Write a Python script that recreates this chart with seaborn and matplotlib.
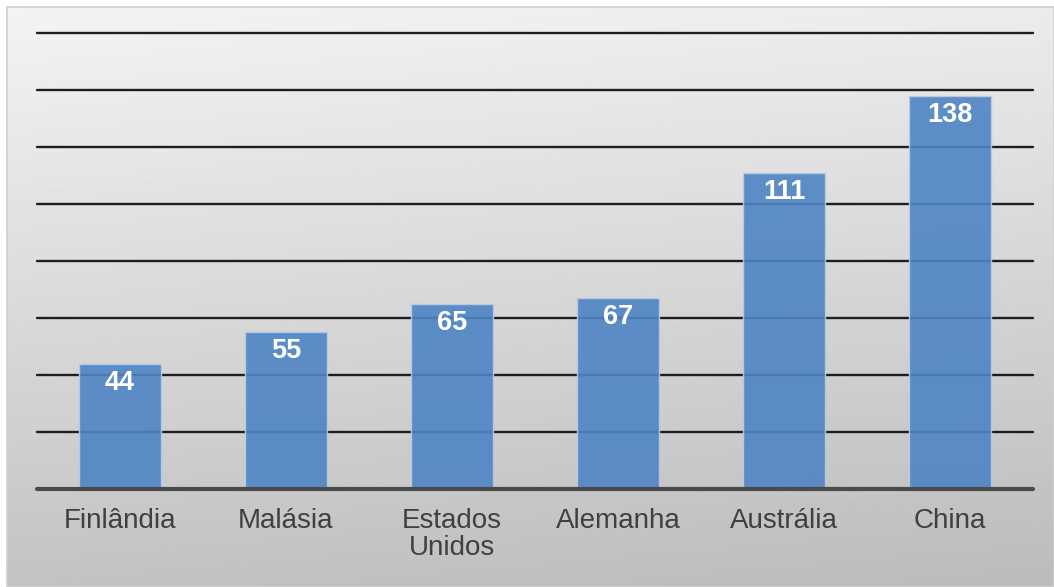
import numpy as np
import matplotlib
matplotlib.use("Agg")
import matplotlib.pyplot as plt
import seaborn as sns
import pandas as pd

categories = ["Finlândia", "Malásia", "Estados\nUnidos", "Alemanha", "Austrália", "China"]
values = [44, 55, 65, 67, 111, 138]

sns.set_theme(style="white")
plt.rcParams['font.family'] = ['Liberation Sans', 'DejaVu Sans']

W, H = 1054, 587
fig = plt.figure(figsize=(W / 100, H / 100), dpi=100)
fig.patch.set_facecolor("white")

# gradient background panel
bg = fig.add_axes([7 / W, 0, 1 - 7 / W, 1 - 7 / H], zorder=-10)
yy = np.linspace(0, 1, 256)[:, None]
xx = np.linspace(0, 1, 256)[None, :]
grad = 0.955 - 0.19 * yy - 0.03 * xx
bg.imshow(grad, cmap="gray", vmin=0, vmax=1, aspect="auto", extent=[0, 1, 1, 0])
bg.set_axis_off()
bg.add_patch(plt.Rectangle((0, 0), 1, 1, transform=bg.transAxes, fill=False,
                           edgecolor="#d0d0d0", lw=1.2, clip_on=False))

ax = fig.add_axes([37 / W, 98 / H, 996 / W, 456 / H])
ax.patch.set_alpha(0)
df = pd.DataFrame({"pais": categories, "valor": values})
sns.barplot(data=df, x="pais", y="valor", ax=ax, color="#4f84c4", width=0.49,
            edgecolor="#b9cde5", linewidth=1, alpha=0.9, saturation=1, zorder=3)

ax.set_ylim(0, 160)
ax.set_xlim(-0.5, len(categories) - 0.5)
ax.set_yticks(np.arange(0, 161, 20))
for t in np.arange(20, 161, 20):
    ax.axhline(t, color="#1e1e1e", lw=1.7, zorder=1, clip_on=False)
ax.axhline(0, color="#4a4a4a", lw=3, zorder=4, clip_on=False)

for sp in ax.spines.values():
    sp.set_visible(False)
ax.set_yticklabels([])
ax.tick_params(axis="y", length=0)
ax.tick_params(axis="x", length=0, pad=14, labelsize=20, labelcolor="#404040")
for lbl in ax.get_xticklabels():
    lbl.set_linespacing(1.02)
    lbl.set_verticalalignment("top")
ax.set_xlabel("")
ax.set_ylabel("")

for c in ax.containers:
    ax.bar_label(c, labels=[str(v) for v in values], padding=-23, color="white",
                 fontsize=19.5, fontweight="bold", zorder=5)

fig.savefig("out.png", dpi=100)
